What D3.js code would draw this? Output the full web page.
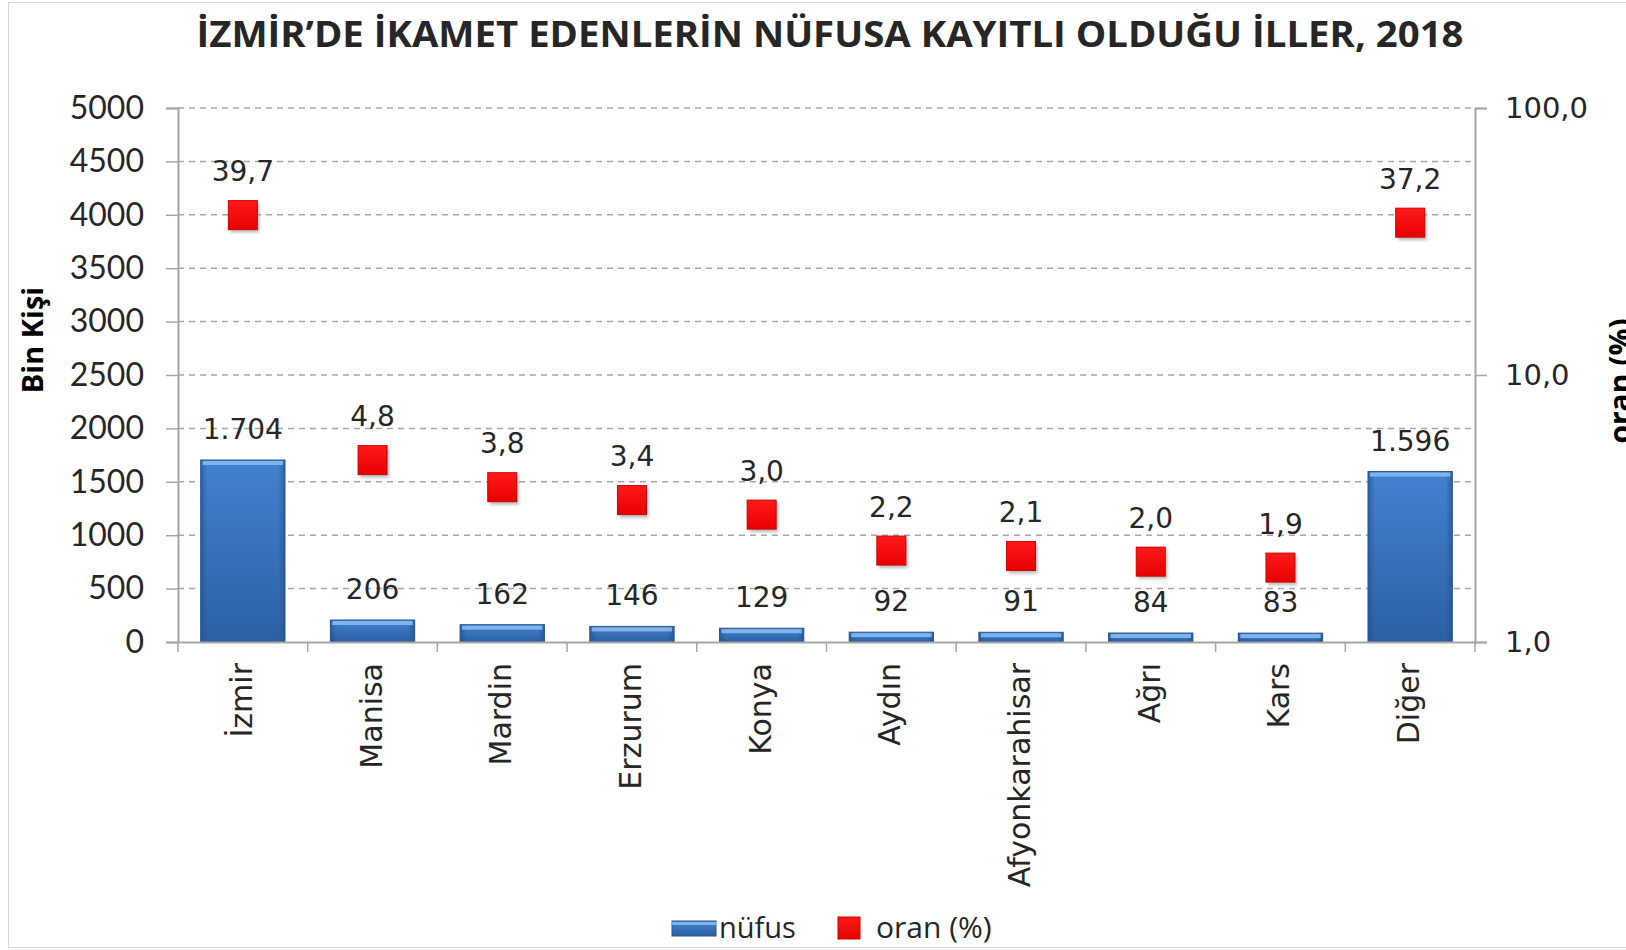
<!DOCTYPE html>
<html lang="tr">
<head>
<meta charset="utf-8">
<title>İzmir nüfus</title>
<script src="https://d3js.org/d3.v7.min.js"></script>
<style>
  body { margin: 0; background: #fff; }
</style>
</head>
<body>
<script>
// data
var iller = ["İzmir", "Manisa", "Mardin", "Erzurum", "Konya", "Aydın", "Afyonkarahisar", "Ağrı", "Kars", "Diğer"];
var nufus = [1704, 206, 162, 146, 129, 92, 91, 84, 83, 1596];
var oran = [39.7, 4.8, 3.8, 3.4, 3.0, 2.2, 2.1, 2.0, 1.9, 37.2];
var solTikler = [0, 500, 1000, 1500, 2000, 2500, 3000, 3500, 4000, 4500, 5000];
var sagTikler = [1, 10, 100];

var w = 1626, h = 950;
var plotL = 178, plotR = 1475, plotT = 108, plotB = 642;

var svg = d3.select("body").append("svg").attr("width", w).attr("height", h);

// frame
svg.append("rect").attr("x", 8.5).attr("y", 2.5).attr("width", w - 8).attr("height", h - 5)
  .attr("fill", "#fff").attr("stroke", "#d9d9d9");

var defs = svg.append("defs");
var g1 = defs.append("linearGradient").attr("id", "barg").attr("x1", 0).attr("y1", 0).attr("x2", 0).attr("y2", 1);
g1.append("stop").attr("offset", "0%").attr("stop-color", "#4282d0");
g1.append("stop").attr("offset", "100%").attr("stop-color", "#2c60a3");
var g2 = defs.append("linearGradient").attr("id", "bare").attr("x1", 0).attr("y1", 0).attr("x2", 1).attr("y2", 0);
g2.append("stop").attr("offset", "0%").attr("stop-color", "#25528c").attr("stop-opacity", 0.7);
g2.append("stop").attr("offset", "8%").attr("stop-color", "#25528c").attr("stop-opacity", 0);
g2.append("stop").attr("offset", "92%").attr("stop-color", "#25528c").attr("stop-opacity", 0);
g2.append("stop").attr("offset", "100%").attr("stop-color", "#25528c").attr("stop-opacity", 0.7);
var g3 = defs.append("linearGradient").attr("id", "sqg").attr("x1", 0).attr("y1", 0).attr("x2", 0).attr("y2", 1);
g3.append("stop").attr("offset", "0%").attr("stop-color", "#ff1a1a");
g3.append("stop").attr("offset", "100%").attr("stop-color", "#e80000");
var blur = defs.append("filter").attr("id", "sh").attr("x", "-30%").attr("y", "-30%").attr("width", "160%").attr("height", "160%");
blur.append("feGaussianBlur").attr("stdDeviation", 1.5);

// scales
var x = d3.scaleBand().domain(iller).range([plotL, plotR]).paddingInner(0.35).paddingOuter(0.175);
var y = d3.scaleLinear().domain([0, 5000]).range([plotB, plotT]);
var y2 = d3.scaleLog().domain([1, 100]).range([plotB, plotT]);

// title
svg.append("text").attr("x", 830).attr("y", 47).attr("text-anchor", "middle")
  .attr("font-family", "'Open Sans', sans-serif").attr("font-weight", "bold").attr("font-size", 35)
  .attr("textLength", 1267).attr("lengthAdjust", "spacingAndGlyphs")
  .attr("fill", "#262626").text("İZMİR’DE İKAMET EDENLERİN NÜFUSA KAYITLI OLDUĞU İLLER, 2018");

// gridlines
svg.append("g").selectAll("line").data(solTikler.filter(function (d) { return d > 0; })).join("line")
  .attr("x1", plotL).attr("x2", plotR).attr("y1", function (d) { return y(d); }).attr("y2", function (d) { return y(d); })
  .attr("stroke", "#a6a6a6").attr("stroke-width", 1.5).attr("stroke-dasharray", "6,5");

// left axis
var yAxis = svg.append("g").attr("transform", "translate(" + plotL + ",0)")
  .call(d3.axisLeft(y).tickValues(solTikler).tickSize(12).tickPadding(22).tickFormat(d3.format("d")));
yAxis.select(".domain").attr("stroke", "#a6a6a6").attr("stroke-width", 2);
yAxis.selectAll(".tick line").attr("stroke", "#a6a6a6").attr("stroke-width", 1.5);
yAxis.selectAll(".tick text").attr("font-family", "Lato, sans-serif").attr("font-size", 32).attr("fill", "#262626");

// right axis
var yAxis2 = svg.append("g").attr("transform", "translate(" + plotR + ",0)")
  .call(d3.axisRight(y2).tickValues(sagTikler).tickSize(12).tickPadding(18)
    .tickFormat(function (d) { return d3.format(".1f")(d).replace(".", ","); }));
yAxis2.select(".domain").attr("stroke", "#a6a6a6").attr("stroke-width", 2);
yAxis2.selectAll(".tick line").attr("stroke", "#a6a6a6").attr("stroke-width", 1.5);
yAxis2.selectAll(".tick text").attr("font-family", "'DejaVu Sans', sans-serif").attr("font-size", 29).attr("fill", "#262626");

// bars
var bars = svg.append("g").selectAll("g").data(iller).join("g");
bars.append("rect").attr("x", function (d) { return x(d); }).attr("width", x.bandwidth())
  .attr("y", function (d, i) { return y(nufus[i]); }).attr("height", function (d, i) { return y(0) - y(nufus[i]); })
  .attr("fill", "url(#barg)").attr("stroke", "#2a5690").attr("stroke-width", 1);
bars.append("rect").attr("x", function (d) { return x(d); }).attr("width", x.bandwidth())
  .attr("y", function (d, i) { return y(nufus[i]); }).attr("height", function (d, i) { return y(0) - y(nufus[i]); })
  .attr("fill", "url(#bare)");
bars.append("rect").attr("x", function (d) { return x(d) + 2; }).attr("width", x.bandwidth() - 4)
  .attr("y", function (d, i) { return y(nufus[i]) + 1; }).attr("height", 4)
  .attr("fill", "#7fb4ea");

// x axis
var xAxis = svg.append("g").attr("transform", "translate(0," + plotB + ")")
  .call(d3.axisBottom(x).tickSize(0).tickFormat(""));
xAxis.select(".domain").attr("stroke", "#a6a6a6").attr("stroke-width", 2);
svg.append("g").selectAll("line").data(d3.range(iller.length + 1)).join("line")
  .attr("x1", function (i) { return plotL + i * x.step(); }).attr("x2", function (i) { return plotL + i * x.step(); })
  .attr("y1", plotB).attr("y2", plotB + 10).attr("stroke", "#a6a6a6").attr("stroke-width", 1.5);

// category labels
svg.append("g").selectAll("text").data(iller).join("text")
  .attr("transform", function (d) { return "translate(" + (x(d) + x.bandwidth() / 2 + 9) + "," + (plotB + 21) + ") rotate(-90)"; })
  .attr("text-anchor", "end").attr("font-family", "'DejaVu Sans', sans-serif").attr("font-size", 30)
  .attr("fill", "#262626").text(function (d) { return d; });

// bar labels
svg.append("g").selectAll("text").data(iller).join("text")
  .attr("x", function (d) { return x(d) + x.bandwidth() / 2; })
  .attr("y", function (d, i) { return y(nufus[i]) - 21; })
  .attr("text-anchor", "middle").attr("font-family", "'DejaVu Sans', sans-serif").attr("font-size", 28)
  .attr("fill", "#262626").text(function (d, i) { return d3.format(",")(nufus[i]).replace(",", "."); });

// squares
var sq = 29;
var pts = svg.append("g").selectAll("g").data(iller).join("g")
  .attr("transform", function (d, i) { return "translate(" + (x(d) + x.bandwidth() / 2) + "," + y2(oran[i]) + ")"; });
pts.append("rect").attr("x", -sq / 2 + 2).attr("y", -sq / 2 + 3).attr("width", sq).attr("height", sq)
  .attr("fill", "#7a7a7a").attr("opacity", 0.5).attr("filter", "url(#sh)");
pts.append("rect").attr("x", -sq / 2).attr("y", -sq / 2).attr("width", sq).attr("height", sq)
  .attr("fill", "url(#sqg)").attr("stroke", "#d00000").attr("stroke-width", 1);
pts.append("text").attr("y", -34).attr("text-anchor", "middle")
  .attr("font-family", "'DejaVu Sans', sans-serif").attr("font-size", 28).attr("fill", "#262626")
  .text(function (d, i) { return d3.format(".1f")(oran[i]).replace(".", ","); });

// axis titles
svg.append("text").attr("transform", "translate(43,340) rotate(-90)").attr("text-anchor", "middle")
  .attr("font-family", "'Open Sans', sans-serif").attr("font-weight", "bold").attr("font-size", 29)
  .attr("fill", "#000").text("Bin Kişi");
svg.append("text").attr("transform", "translate(1631,381) rotate(-90)").attr("text-anchor", "middle")
  .attr("font-family", "'Open Sans', sans-serif").attr("font-weight", "bold").attr("font-size", 30)
  .attr("fill", "#000").text("oran (%)");

// legend
var leg = svg.append("g");
leg.append("rect").attr("x", 672).attr("y", 921).attr("width", 44).attr("height", 15).attr("fill", "url(#barg)").attr("stroke", "#2a5690");
leg.append("rect").attr("x", 672).attr("y", 922).attr("width", 44).attr("height", 3).attr("fill", "#7fb4ea");
leg.append("text").attr("x", 719).attr("y", 938).attr("font-family", "'Open Sans', sans-serif").attr("font-size", 29)
  .attr("fill", "#262626").text("nüfus");
leg.append("rect").attr("x", 838).attr("y", 917).attr("width", 22).attr("height", 22).attr("fill", "url(#sqg)").attr("stroke", "#d00000");
leg.append("text").attr("x", 876).attr("y", 938).attr("font-family", "'Open Sans', sans-serif").attr("font-size", 30)
  .attr("fill", "#262626").text("oran (%)");
</script>
</body>
</html>
